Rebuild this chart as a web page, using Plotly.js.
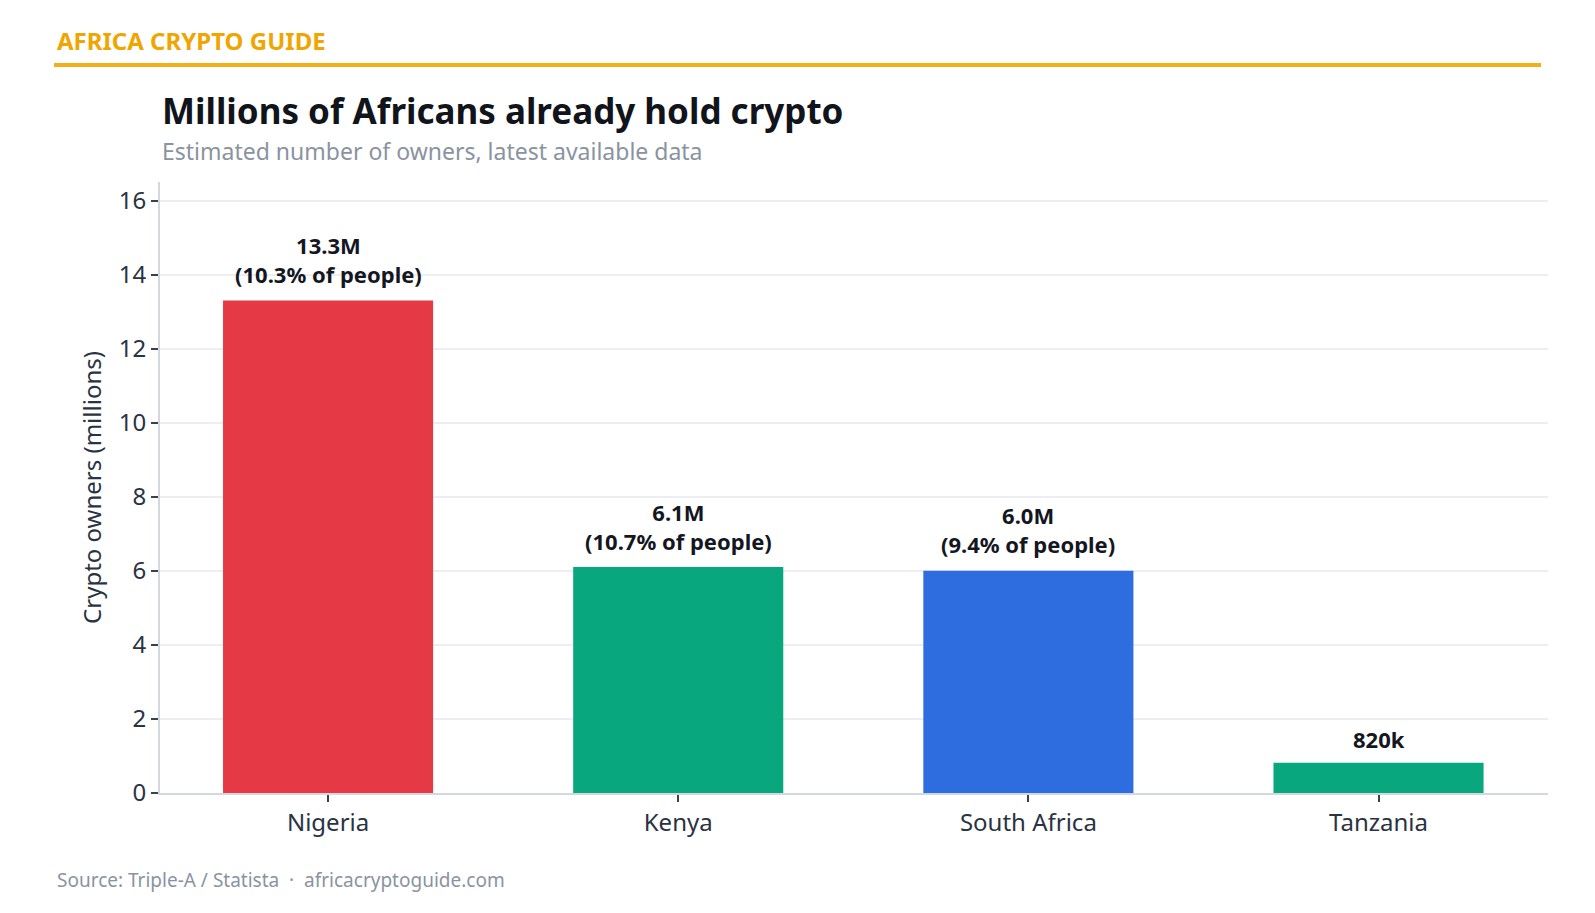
<!DOCTYPE html>
<html>
<head>
<meta charset="utf-8">
<script src="https://cdn.plot.ly/plotly-3.0.1.min.js"></script>
<style>
  html, body { margin: 0; padding: 0; background: #ffffff; }
  #chart { width: 1595px; height: 913px; }
</style>
</head>
<body>
<div id="chart"></div>
<script>
// Crypto ownership by country (millions of people)
const countries = ["Nigeria", "Kenya", "South Africa", "Tanzania"];
const owners = [13.3, 6.1, 6.0, 0.82];
const valueLabels = ["13.3M", "6.1M", "6.0M", "820k"];
const shareLabels = ["10.3% of people", "10.7% of people", "9.4% of people", null];
const barColors = ["#e63946", "#09a77e", "#2e6ddf", "#09a77e"];
const yTicks = [0, 2, 4, 6, 8, 10, 12, 14, 16];

const FONT = "Noto Sans, Open Sans, sans-serif";
const LABEL_FONT = { family: FONT, size: 22, color: "#14171f" };

const trace = {
  type: "bar",
  x: countries,
  y: owners,
  width: 0.6,
  marker: { color: barColors, line: { width: 0 } },
  hoverinfo: "x+y"
};

// Value labels above each bar: headline figure, then population share beneath it
const barAnnotations = countries.map((c, i) => {
  const hasShare = shareLabels[i] !== null;
  return {
    x: c, y: owners[i], xref: "x", yref: "y",
    yanchor: "middle",
    yshift: hasShare ? 41 : 24,
    showarrow: false,
    align: "center",
    text: hasShare
      ? "<b>" + valueLabels[i] + "<br>(" + shareLabels[i] + ")</b>"
      : "<b>" + valueLabels[i] + "</b>",
    font: LABEL_FONT
  };
});

const layout = {
  width: 1595,
  height: 913,
  paper_bgcolor: "#ffffff",
  plot_bgcolor: "#ffffff",
  margin: { l: 160, r: 47, t: 182, b: 120 },
  showlegend: false,
  bargap: 0.4,
  font: { family: FONT, color: "#2a3342" },
  xaxis: {
    type: "category",
    range: [-0.48, 3.484],
    showgrid: false,
    showline: true,
    linecolor: "#d3d7de",
    linewidth: 2,
    ticks: "outside",
    ticklen: 7,
    tickwidth: 2,
    tickcolor: "#3a4150",
    tickfont: { family: FONT, size: 24, color: "#2a3342" },
    zeroline: false
  },
  yaxis: {
    range: [0, 16.5],
    tickvals: yTicks,
    showgrid: true,
    gridcolor: "#eceef3",
    gridwidth: 2,
    showline: true,
    linecolor: "#d3d7de",
    linewidth: 2,
    ticks: "outside",
    ticklen: 7,
    tickwidth: 2,
    tickcolor: "#3a4150",
    tickfont: { family: FONT, size: 24, color: "#2a3342" },
    zeroline: false,
    title: {
      text: "Crypto owners (millions)",
      font: { family: FONT, size: 24, color: "#2a3342" },
      standoff: 10
    }
  },
  shapes: [
    {
      type: "line",
      xref: "paper", yref: "paper",
      x0: (54 - 160) / 1388, x1: (1541 - 160) / 1388,
      y0: 1 + (182 - 65) / 611, y1: 1 + (182 - 65) / 611,
      line: { color: "#f3ae1c", width: 4 }
    }
  ],
  annotations: [
    {
      xref: "paper", yref: "paper",
      x: (55 - 160) / 1388, y: 1 + (182 - 40) / 611,
      xanchor: "left", yanchor: "middle",
      showarrow: false,
      text: "<b>AFRICA CRYPTO GUIDE</b>",
      font: { family: FONT, size: 24, color: "#f0a500" }
    },
    {
      xref: "paper", yref: "paper",
      x: 0, y: 1 + (182 - 111) / 611,
      xanchor: "left", yanchor: "middle",
      showarrow: false,
      text: "<b>Millions of Africans already hold crypto</b>",
      font: { family: FONT, size: 35, color: "#11141b" }
    },
    {
      xref: "paper", yref: "paper",
      x: 0, y: 1 + (182 - 151) / 611,
      xanchor: "left", yanchor: "middle",
      showarrow: false,
      text: "Estimated number of owners, latest available data",
      font: { family: FONT, size: 23, color: "#8a93a1" }
    },
    {
      xref: "paper", yref: "paper",
      x: (55 - 160) / 1388, y: -(880 - 793) / 611,
      xanchor: "left", yanchor: "middle",
      showarrow: false,
      text: "Source: Triple-A / Statista  \u00b7  africacryptoguide.com",
      font: { family: FONT, size: 19, color: "#8a93a1" }
    }
  ].concat(barAnnotations)
};

Plotly.newPlot("chart", [trace], layout, { displayModeBar: false, responsive: false });
</script>
</body>
</html>
